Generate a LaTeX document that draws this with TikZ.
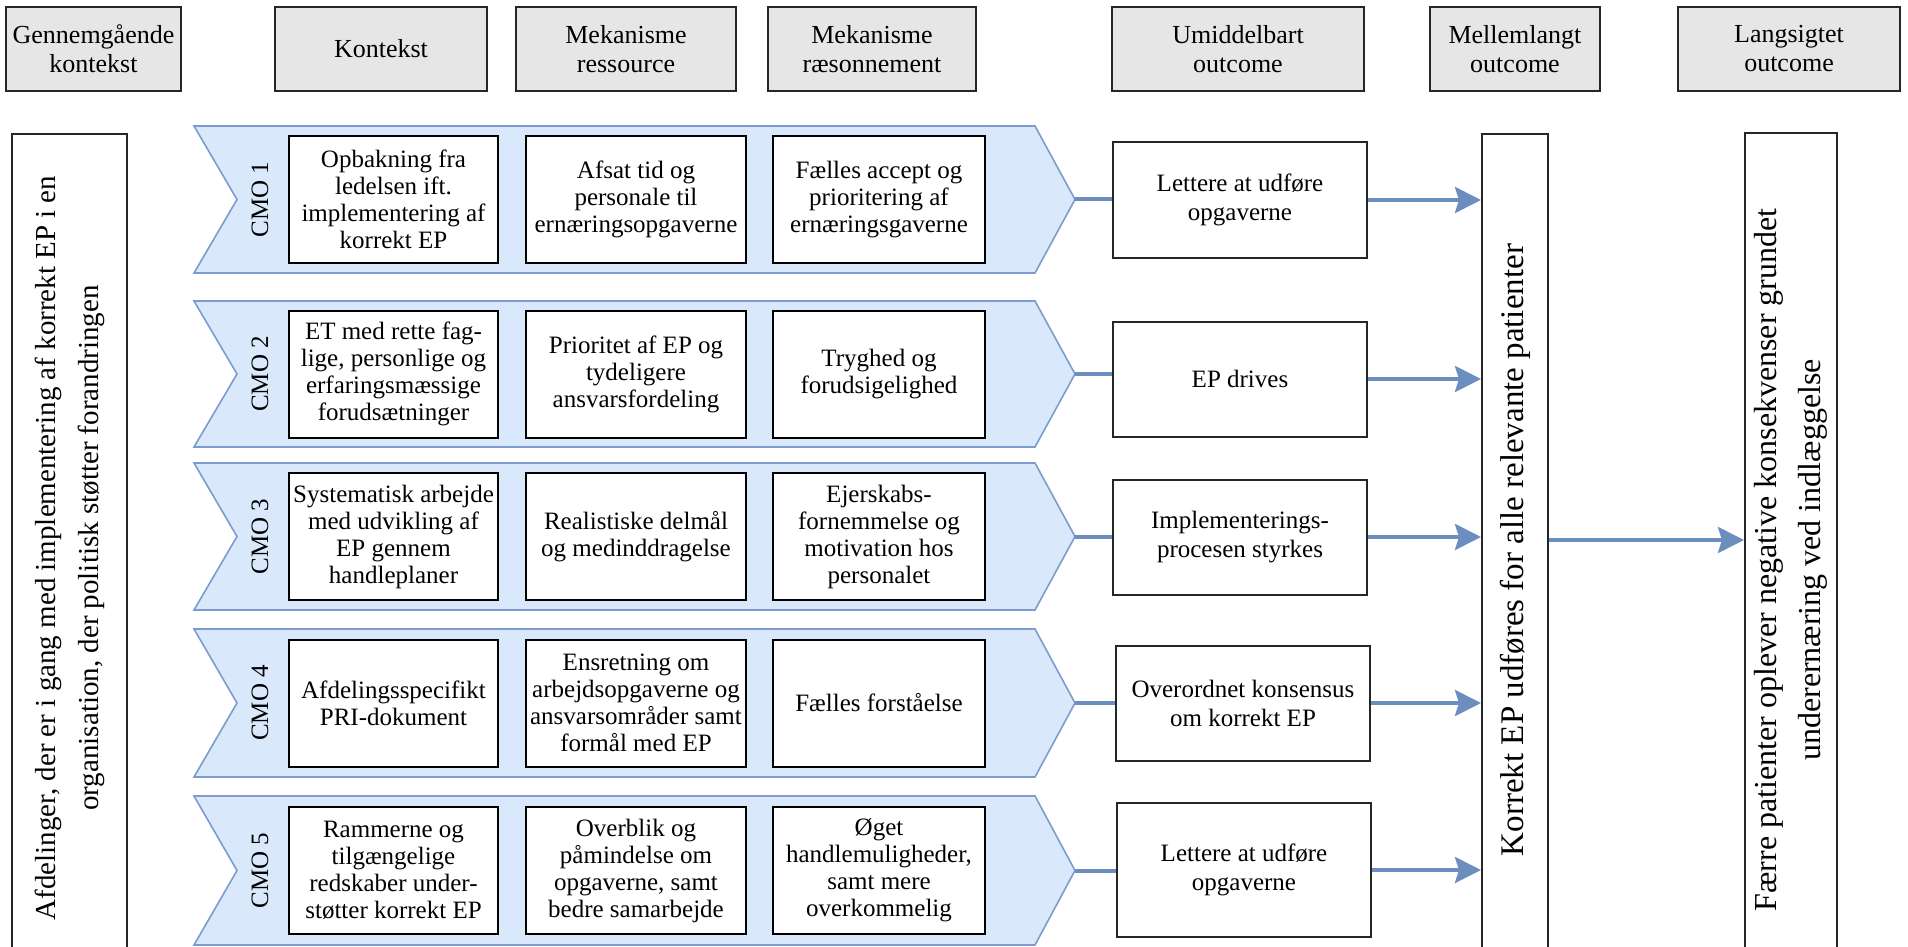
\documentclass[tikz,border=0pt]{standalone}
\usepackage{fontspec}
\setmainfont{Liberation Serif}
\usetikzlibrary{arrows.meta}

\definecolor{chevfill}{HTML}{DAE8FC}
\definecolor{chevline}{HTML}{7C9CCF}
\definecolor{flow}{HTML}{6C8EBF}
\definecolor{headfill}{HTML}{E6E6E6}

\newcommand\pxu{0.5pt}

\begin{document}
\begin{tikzpicture}[x=0.5pt,y=-0.5pt,
  header/.style={draw=black!85, line width=1pt, fill=headfill, align=center,
    inner sep=0pt, minimum height=84*\pxu, font=\fontsize{13}{14.5}\selectfont},
  cmobox/.style={draw=black, line width=1pt, fill=white, align=center,
    inner sep=0pt, minimum height=127*\pxu, font=\fontsize{12.5}{13.5}\selectfont},
  outbox/.style={draw=black!85, line width=1pt, fill=white, align=center,
    inner sep=0pt, minimum width=254*\pxu, minimum height=115*\pxu,
    font=\fontsize{12.5}{14.5}\selectfont},
  tallbox/.style={draw=black!85, line width=1pt, fill=white, inner sep=0pt},
  chev/.style={draw=chevline, line width=0.8pt, fill=chevfill},
  cmolabel/.style={rotate=90, font=\fontsize{12.5}{14}\selectfont},
  flowline/.style={draw=flow, line width=2pt},
  flowarrow/.style={flowline, -{Stealth[length=13pt, width=13pt, inset=2pt]}},
]
\useasboundingbox (0,0) rectangle (1908,947);
\clip (0,0) rectangle (1908,947);

% column headers
\node[header, minimum width=175*\pxu] (h1) at (93.5,49) {Gennemgående\\kontekst};
\node[header, minimum width=212*\pxu] (h2) at (381,49) {Kontekst};
\node[header, minimum width=220*\pxu] (h3) at (626,49) {Mekanisme\\ressource};
\node[header, minimum width=208*\pxu] (h4) at (872,49) {Mekanisme\\ræsonnement};
\node[header, minimum width=252*\pxu] (h5) at (1238,49) {Umiddelbart\\outcome};
\node[header, minimum width=170*\pxu] (h6) at (1515,49) {Mellemlangt\\outcome};
\node[header, minimum width=222*\pxu] (h7) at (1789,49) {Langsigtet\\outcome};

% overall context, running down the left side
\node[tallbox, minimum width=115*\pxu, minimum height=846*\pxu] (ctx) at (69.5,557) {};
\node[rotate=90, align=center, font=\fontsize{14.5}{21.5}\selectfont] (ctxtext) at (70,548)
  {Afdelinger, der er i gang med implementering af korrekt EP i en\\organisation, der politisk støtter forandringen};

% CMO chevrons: top, bottom
\foreach \t/\b/\n in {126/273/1, 301/447/2, 463/610/3, 629/777/4, 796/945/5}{
  \pgfmathsetmacro\m{(\t+\b)/2}
  \draw[chev] (194,\t) -- (1035,\t) -- (1075,\m) -- (1035,\b) -- (194,\b) -- (237,\m) -- cycle;
  \coordinate (tip\n) at (1075,\m);
  \node[cmolabel] (cmo\n) at (260,\m) {CMO \n};
}

% CMO 1
\node[cmobox, minimum width=209*\pxu] (c1a) at (393.5,199.5) {Opbakning fra\\ledelsen ift.\\implementering af\\korrekt EP};
\node[cmobox, minimum width=220*\pxu] (c1b) at (636,199.5) {Afsat tid og\\personale til\\ernæringsopgaverne};
\node[cmobox, minimum width=212*\pxu] (c1c) at (879,199.5) {Fælles accept og\\prioritering af\\ernæringsgaverne};
% CMO 2
\node[cmobox, minimum width=209*\pxu] (c2a) at (393.5,374) {ET med rette fag-\\lige, personlige og\\erfaringsmæssige\\forudsætninger};
\node[cmobox, minimum width=220*\pxu] (c2b) at (636,374) {Prioritet af EP og\\tydeligere\\ansvarsfordeling};
\node[cmobox, minimum width=212*\pxu] (c2c) at (879,374) {Tryghed og\\forudsigelighed};
% CMO 3
\node[cmobox, minimum width=209*\pxu] (c3a) at (393.5,536.5) {Systematisk arbejde\\med udvikling af\\EP gennem\\handleplaner};
\node[cmobox, minimum width=220*\pxu] (c3b) at (636,536.5) {Realistiske delmål\\og medinddragelse};
\node[cmobox, minimum width=212*\pxu] (c3c) at (879,536.5) {Ejerskabs-\\fornemmelse og\\motivation hos\\personalet};
% CMO 4
\node[cmobox, minimum width=209*\pxu] (c4a) at (393.5,703) {Afdelingsspecifikt\\PRI-dokument};
\node[cmobox, minimum width=220*\pxu] (c4b) at (636,703) {Ensretning om\\arbejdsopgaverne og\\ansvarsområder samt\\formål med EP};
\node[cmobox, minimum width=212*\pxu] (c4c) at (879,703) {Fælles forståelse};
% CMO 5
\node[cmobox, minimum width=209*\pxu] (c5a) at (393.5,870.5) {Rammerne og\\tilgængelige\\redskaber under-\\støtter korrekt EP};
\node[cmobox, minimum width=220*\pxu] (c5b) at (636,870.5) {Overblik og\\påmindelse om\\opgaverne, samt\\bedre samarbejde};
\node[cmobox, minimum width=212*\pxu] (c5c) at (879,870.5) {Øget\\handlemuligheder,\\samt mere\\overkommelig};

% immediate outcomes
\node[outbox] (o1) at (1240,200) {Lettere at udføre\\opgaverne};
\node[outbox] (o2) at (1240,379) {EP drives};
\node[outbox] (o3) at (1240,537) {Implementerings-\\procesen styrkes};
\node[outbox] (o4) at (1243,703) {Overordnet konsensus\\om korrekt EP};
\node[outbox, minimum height=134*\pxu] (o5) at (1244,870) {Lettere at udføre\\opgaverne};

% intermediate outcome
\node[tallbox, minimum width=66*\pxu, minimum height=846*\pxu] (mid) at (1515,557) {};
\node[rotate=90, font=\fontsize{16.5}{20}\selectfont] (midtext) at (1515,550)
  {Korrekt EP udføres for alle relevante patienter};

% long-term outcome
\node[tallbox, minimum width=92*\pxu, minimum height=846*\pxu] (long) at (1791,556) {};
\node[rotate=90, align=center, font=\fontsize{16}{22}\selectfont] (longtext) at (1791,560)
  {Færre patienter oplever negative konsekvenser grundet\\underernæring ved indlæggelse};

% chevron tips to immediate outcomes
\foreach \n in {1,...,5}{
  \draw[flowline] (tip\n) -- (tip\n -| o\n.west);
  \draw[flowarrow] (o\n.east) -- (o\n.east -| mid.west);
}

% intermediate to long-term outcome
\coordinate (midout) at (mid.east |- 0,540);
\draw[flowarrow] (midout) -- (midout -| long.west);

\end{tikzpicture}
\end{document}
